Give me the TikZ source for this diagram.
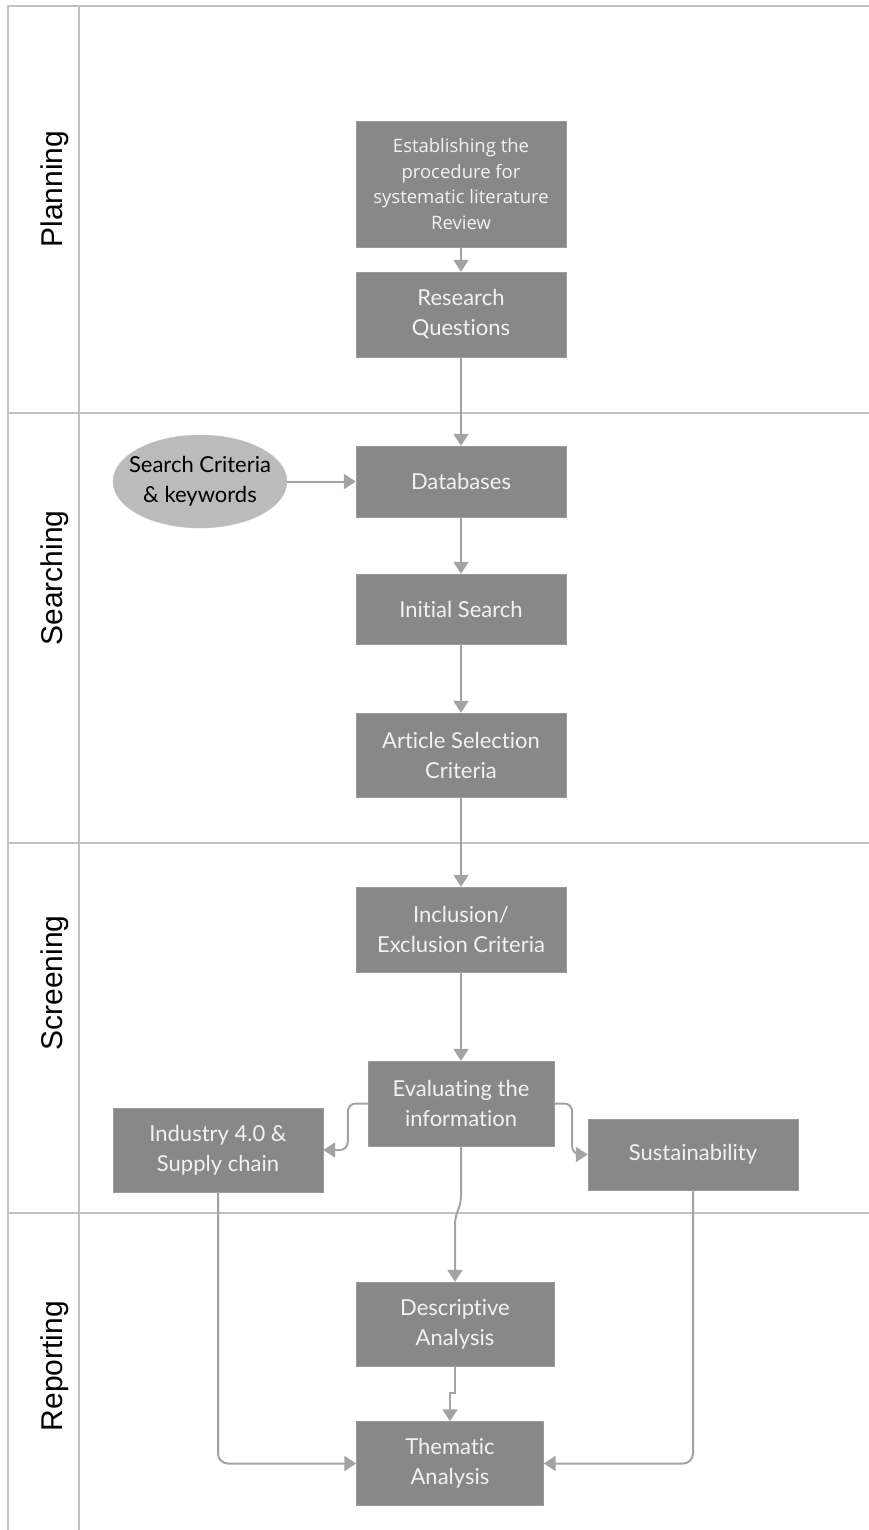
\documentclass[tikz,border=0pt]{standalone}
\usepackage{fontspec}
\usepackage{tikz}
\usetikzlibrary{arrows.meta, shapes.geometric}
\newfontfamily\boxfont[Ligatures=NoCommon]{Lato}
\newfontfamily\procfont{Open Sans}
\newfontfamily\lanefont{Liberation Sans}
\definecolor{myboxcolor}{HTML}{888888}
\definecolor{myovalcolor}{HTML}{BBBBBB}
\definecolor{mylinecolor}{HTML}{A3A3A3}
\definecolor{mylanecolor}{HTML}{C2C2C2}

\tikzset{
  box/.style={draw=myboxcolor!85!white, fill=myboxcolor, rectangle, inner sep=0pt, align=center, text=white!95!black, font=\boxfont\fontsize{22pt}{30pt}\selectfont},
  oval/.style={draw=myovalcolor!85!white, fill=myovalcolor, ellipse, inner xsep=-10pt, inner ysep=0pt, align=center, text=black, font=\boxfont\fontsize{22pt}{30pt}\selectfont},
  conn/.style={draw=mylinecolor, line width=2pt, -{Triangle[width=15pt,length=12pt]}},
  lane/.style={draw=mylanecolor, line width=2pt},
  lanelabel/.style={rotate=90, font=\lanefont\fontsize{30pt}{30pt}\selectfont}
}

\begin{document}
\begin{tikzpicture}[x=1pt, y=-1pt]%
\useasboundingbox (0,0) rectangle (869,1530);%
% swimlanes
\draw[lane] (869,6) -- (8,6) -- (8,1530);%
\draw[lane] (79,6) -- (79,1530);%
\draw[lane] (8,413) -- (869,413);%
\draw[lane] (8,843) -- (869,843);%
\draw[lane] (8,1213) -- (869,1213);%
\node[lanelabel] (planning) at (55,189) {Planning};%
\node[lanelabel] (searching) at (55,578) {Searching};%
\node[lanelabel] (screening) at (55,983) {Screening};%
\node[lanelabel] (reporting) at (55,1366) {Reporting};%
% steps
\node[box, minimum width=210, minimum height=126, font=\procfont\fontsize{18.5pt}{25.5pt}\selectfont] (procedure) at (461,184) {Establishing the\\procedure for\\systematic literature\\Review};%
\node[box, minimum width=210, minimum height=85] (questions) at (461,314.5) {Research\\Questions};%
\node[oval, minimum width=174, minimum height=93] (criteria) at (200,481.5) {Search Criteria\\\& keywords};%
\node[box, minimum width=210, minimum height=71] (databases) at (461,481.5) {Databases};%
\node[box, minimum width=210, minimum height=70] (initial) at (461,609) {Initial Search};%
\node[box, minimum width=210, minimum height=84] (selection) at (461,755) {Article Selection\\Criteria};%
\node[box, minimum width=210, minimum height=85] (inclusion) at (461,929.5) {Inclusion/\\Exclusion Criteria};%
\node[box, minimum width=186, minimum height=85] (evaluating) at (461,1103.5) {Evaluating the\\information};%
\node[box, minimum width=210, minimum height=84] (industry) at (218,1150) {Industry 4.0 \&\\Supply chain};%
\node[box, minimum width=210, minimum height=71] (sustain) at (693,1154.5) {Sustainability};%
\node[box, minimum width=198, minimum height=84] (descriptive) at (455,1324) {Descriptive\\Analysis};%
\node[box, minimum width=187, minimum height=84] (thematic) at (450,1463.5) {Thematic\\Analysis};%
% connectors
\draw[conn] (procedure) -- (questions);%
\draw[conn] (questions) -- (databases);%
\draw[conn] (criteria) -- (databases);%
\draw[conn] (databases) -- (initial);%
\draw[conn] (initial) -- (selection);%
\draw[conn] (selection) -- (inclusion);%
\draw[conn] (inclusion) -- (evaluating);%
\draw[conn, rounded corners=8pt] (evaluating.west) -- ++(-20,0) |- (industry.east);%
\draw[conn, rounded corners=8pt] (evaluating.east) -- ++(18,0) |- (sustain.west);%
\draw[conn, rounded corners=6pt] (evaluating.south) -- ++(0,56) -- ++(-6,16) -- (descriptive.north);%
\draw[conn] (descriptive.south) -- ++(0,27) -| (thematic.north);%
\draw[conn, rounded corners=10pt] (industry.south) |- (thematic.west);%
\draw[conn, rounded corners=10pt] (sustain.south) |- (thematic.east);%
\end{tikzpicture}
\end{document}
